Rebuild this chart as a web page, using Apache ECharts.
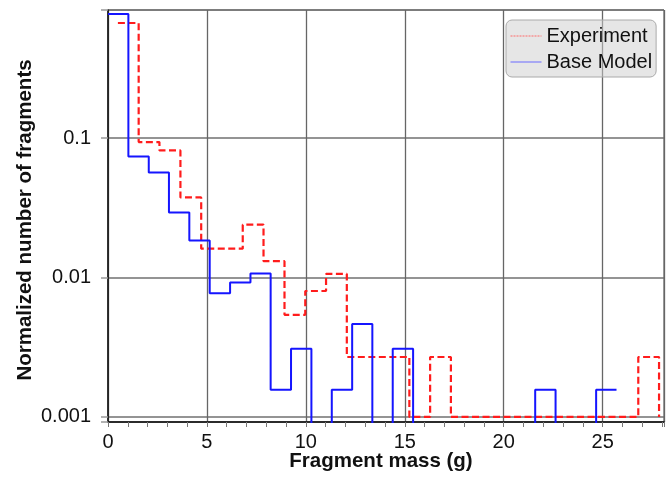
<!DOCTYPE html>
<html><head><meta charset="utf-8">
<script src="https://cdn.jsdelivr.net/npm/echarts@6/dist/echarts.min.js"></script>
<style>html,body{margin:0;padding:0;background:#fff}#c{width:672px;height:477px}</style>
</head><body><div id="c"></div>
<script>
// Experiment histogram: bin edges (g) and normalized counts per bin
const expEdges = [0.5, 1.55, 2.6, 3.66, 4.71, 5.76, 6.81, 7.86, 8.92, 9.97, 11.02, 12.07, 13.12, 14.18,
  15.23, 16.28, 17.33, 18.38, 19.44, 20.49, 21.54, 22.59, 23.64, 24.7, 25.75, 26.8, 27.85];
const expValues = [0.668, 0.0936, 0.0815, 0.0375, 0.0161, 0.0161, 0.0239, 0.0131, 0.0054, 0.0080,
  0.0106, 0.00269, 0.00269, 0.00269, 0.001, 0.00269, 0.001, 0.001, 0.001, 0.001, 0.001, 0.001,
  0.001, 0.001, 0.001, 0.00269];
const expFloor = 0.001;   // level the dashed curve closes to after its last bin

// Base Model histogram: bin edges (g) and normalized counts per bin (0 = empty bin)
const modelEdges = [0, 1.03, 2.06, 3.08, 4.11, 5.14, 6.17, 7.2, 8.22, 9.25, 10.28, 11.31, 12.34,
  13.36, 14.39, 15.42, 16.45, 17.48, 18.5, 19.53, 20.56, 21.59, 22.62, 23.64, 24.67, 25.7];
const modelValues = [0.776, 0.0738, 0.0566, 0.0292, 0.0184, 0.0077, 0.0092, 0.0107, 0.00157, 0.00308,
  0, 0.00157, 0.00464, 0, 0.00308, 0, 0, 0, 0, 0, 0, 0.00157, 0, 0, 0.00157];

const xTickLabels = ['0', '5', '10', '15', '20', '25'];
const yTickLabels = ['0.001', '0.01', '0.1'];

const EMPTY = 1e-6; // empty bins sit below the log axis and are clipped at its bottom

function stepData(edges, values, closing) {
  const d = [];
  for (let i = 0; i < values.length; i++) d.push([edges[i], values[i] > 0 ? values[i] : EMPTY]);
  const last = closing != null ? closing : values[values.length - 1];
  d.push([edges[values.length], last > 0 ? last : EMPTY]);
  return d;
}

const FONT = "'Liberation Sans', Arial, Helvetica, sans-serif";
const chart = echarts.init(document.getElementById('c'), null, {renderer: 'canvas'});
chart.setOption({
  animation: false,
  backgroundColor: '#fff',
  grid: {left: 108, right: 8, top: 10, bottom: 55, show: true, borderColor: '#444', borderWidth: 1,
         backgroundColor: 'transparent', containLabel: false, outerBoundsMode: 'none'},
  legend: {
    orient: 'vertical', left: 506, top: 20,
    itemWidth: 31, itemHeight: 14, itemGap: 6,
    padding: [6, 4, 5, 4],
    backgroundColor: 'rgba(205,205,205,0.5)', borderColor: '#aaa', borderWidth: 1, borderRadius: 6,
    textStyle: {fontSize: 20, color: '#111', fontFamily: FONT},
    itemStyle: {opacity: 0},
    data: [
      {name: 'Experiment', itemStyle: {opacity: 0}, lineStyle: {width: 1, type: [2, 1], color: '#ff6a6a'}},
      {name: 'Base Model', itemStyle: {opacity: 0}, lineStyle: {width: 1, color: '#6a6aff'}}
    ]
  },
  xAxis: {
    type: 'value', min: 0, max: 28.1, interval: 5,
    name: 'Fragment mass (g)', nameLocation: 'middle', nameGap: 29, nameMoveOverlap: false,
    nameTextStyle: {fontSize: 20.5, fontWeight: 'bold', color: '#111', fontFamily: FONT, padding: [0, 10, 0, 0]},
    axisLine: {show: true, onZero: false, lineStyle: {color: '#111', width: 1.5}},
    axisTick: {show: true, length: 5, lineStyle: {color: '#777'}},
    minorTick: {show: true, splitNumber: 5, length: 5, lineStyle: {color: '#777'}},
    axisLabel: {fontSize: 20, color: '#111', fontFamily: FONT, margin: 10,
      formatter: v => { const i = Math.round(v / 5); return (Math.abs(v - i * 5) < 1e-6 && i < xTickLabels.length) ? xTickLabels[i] : ''; }},
    splitLine: {show: true, lineStyle: {color: '#666', width: 1.3}}
  },
  yAxis: {
    type: 'log', logBase: 10, min: 0.00092, max: 0.828, offset: 5,
    name: 'Normalized number of fragments', nameLocation: 'middle', nameGap: 67, nameMoveOverlap: false,
    nameTextStyle: {fontSize: 20.5, fontWeight: 'bold', color: '#111', fontFamily: FONT, padding: [0, 8, 0, 0]},
    axisLine: {show: true, lineStyle: {color: '#111', width: 1.5}},
    axisTick: {show: true, length: 7, lineStyle: {color: '#999', width: 1.5}},
    axisLabel: {fontSize: 20, color: '#111', fontFamily: FONT, margin: 12,
      formatter: v => { const l = Math.log10(v); const k = Math.round(l);
        return Math.abs(l - k) < 1e-6 && yTickLabels[k + 3] ? yTickLabels[k + 3] : ''; }},
    splitLine: {show: true, lineStyle: {color: '#707070', width: 1.5}}
  },
  series: [
    {name: 'Experiment', type: 'line', step: 'end', symbol: 'none', clip: true,
     data: stepData(expEdges, expValues, expFloor),
     itemStyle: {color: '#ff1c1c'},
     lineStyle: {color: '#ff1c1c', width: 2.2, type: [7, 3.5]}},
    {name: 'Base Model', type: 'line', step: 'end', symbol: 'none', clip: true,
     data: stepData(modelEdges, modelValues),
     itemStyle: {color: '#1515ff'},
     lineStyle: {color: '#1515ff', width: 2}}
  ]
});
</script>
</body></html>
